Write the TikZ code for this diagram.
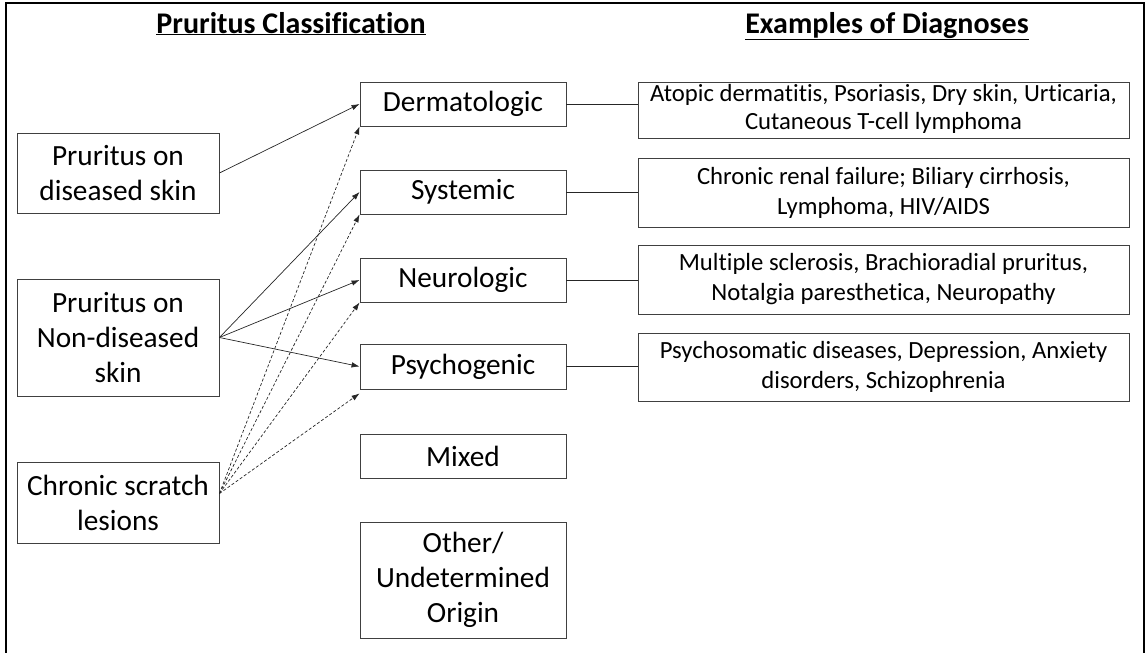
\documentclass[tikz,border=0pt]{standalone}
\usepackage{fontspec}
\setmainfont{Carlito}[Ligatures=CommonOff]
\usetikzlibrary{arrows.meta,positioning,calc}
\begin{document}
\begin{tikzpicture}[x=1pt,y=-1pt,
  box/.style={draw=black!75,line width=0.9pt,inner sep=0pt,align=center,text=black},
  lbox/.style={box,minimum width=202pt,font=\fontsize{29.3}{35}\selectfont},
  mbox/.style={box,minimum width=206pt,font=\fontsize{29.3}{35}\selectfont},
  rbox/.style={box,minimum width=491pt,font=\fontsize{24.7}{30}\selectfont},
  rtext/.style={inner sep=0pt,align=center,font=\fontsize{24.7}{28}\selectfont},
  hdr/.style={font=\fontsize{30}{34}\selectfont\bfseries,inner sep=0pt,anchor=base},
  arr/.style={draw=black!85,line width=0.7pt,-{Latex[length=8pt,width=5.5pt]}},
  darr/.style={arr,dashed,dash pattern=on 3pt off 2pt},
  link/.style={draw=black!85,line width=0.7pt}]
\useasboundingbox (0,0) rectangle (1146,653);
\draw[line width=2pt] (6,670) -- (6,3) -- (1144,3) -- (1144,670);
\node[hdr] (h1) at (291,33) {\underline{Pruritus Classification}};
\node[hdr] (h2) at (887,33) {\underline{Examples of Diagnoses}};
% left
\node[lbox,minimum height=80pt] (L1) at (118,173) {Pruritus on\\diseased skin};
\node[lbox,minimum height=117pt] (L2) at (118,337.5) {Pruritus on\\Non-diseased\\skin};
\node[lbox,minimum height=81pt] (L3) at (118,502.5) {Chronic scratch\\lesions};
% middle
\node[mbox,minimum height=44pt] (M1) at (463,104) {Dermatologic};
\node[mbox,minimum height=44pt] (M2) at (463,192) {Systemic};
\node[mbox,minimum height=44pt] (M3) at (463,280) {Neurologic};
\node[mbox,minimum height=45pt] (M4) at (463,366.5) {Psychogenic};
\node[mbox,minimum height=44pt] (M5) at (463,456) {Mixed};
\node[mbox,minimum height=116pt] (M6) at (463,580) {Other/\\Undetermined\\Origin};
% right
\node[rbox,minimum height=56pt] (R1) at (883.5,110) {};
\node[rtext] (R1t) at (883.5,108.5) {Atopic dermatitis, Psoriasis, Dry skin, Urticaria,\\Cutaneous T-cell lymphoma};
\node[rbox,minimum height=69pt] (R2) at (883.5,192.5) {Chronic renal failure; Biliary cirrhosis,\\Lymphoma, HIV/AIDS};
\node[rbox,minimum height=69pt] (R3) at (883.5,279.5) {Multiple sclerosis, Brachioradial pruritus,\\Notalgia paresthetica, Neuropathy};
\node[rbox,minimum height=68pt] (R4) at (883.5,367) {Psychosomatic diseases, Depression, Anxiety\\disorders, Schizophrenia};
% links
\draw[link] (M1.east) -- (M1.east -| R1.west);
\draw[link] (M2.east) -- (M2.east -| R2.west);
\draw[link] (M3.east) -- (M3.east -| R3.west);
\draw[link] (M4.east) -- (M4.east -| R4.west);
% arrows
\draw[arr] (L1.east) -- (M1.west);
\draw[arr] (L2.east) -- (M2.west);
\draw[arr] (L2.east) -- (M3.west);
\draw[arr] (L2.east) -- (M4.west);
\coordinate (cs) at ([yshift=9pt]L3.east);
\draw[darr] (cs) -- (M1.south west);
\draw[darr] (cs) -- (M2.south west);
\draw[darr] (cs) -- (M3.south west);
\draw[darr] (cs) -- ([yshift=-4pt]M4.south west);
\end{tikzpicture}
\end{document}
